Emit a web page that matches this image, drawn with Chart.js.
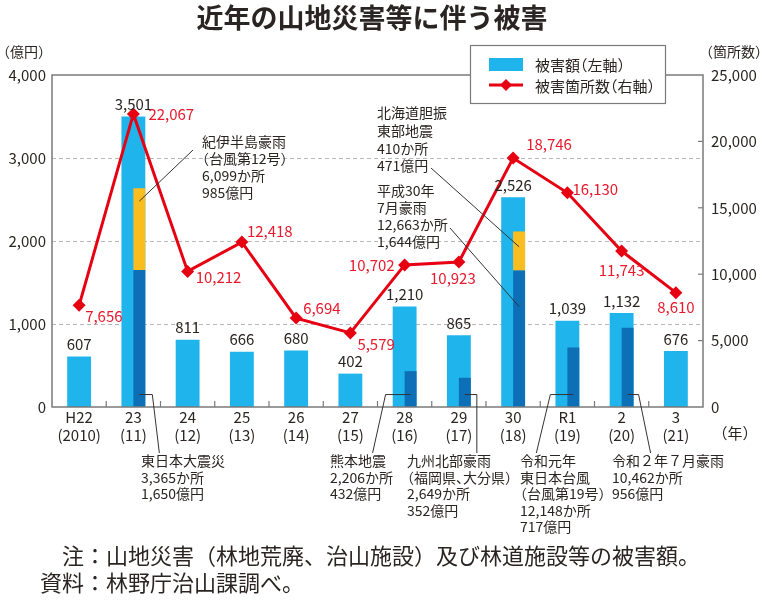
<!DOCTYPE html>
<html><head><meta charset="utf-8">
<script src="https://cdn.jsdelivr.net/npm/chart.js@4"></script>
<style>html,body{margin:0;padding:0;background:#fff}</style>
</head><body>
<canvas id="c" width="764" height="605"></canvas>
<script>
// ---- data ----
const eraYears = ['H22','23','24','25','26','27','28','29','30','R1','2','3'];
const westernYears = ['(2010)','(11)','(12)','(13)','(14)','(15)','(16)','(17)','(18)','(19)','(20)','(21)'];
const damageTotal = [607,3501,811,666,680,402,1210,865,2526,1039,1132,676];        // 億円
const majorDisaster = [null,1650,null,null,null,null,432,352,1644,717,956,null];   // 億円
const secondDisaster = [null,985,null,null,null,null,null,null,471,null,null,null]; // 億円
const siteCount = [7656,22067,10212,12418,6694,5579,10702,10923,18746,16130,11743,8610]; // 箇所
const leftTicks = [0,1000,2000,3000,4000];
const rightTicks = [0,5000,10000,15000,20000,25000];

// ---- styles ----
const FONT = '"Noto Sans CJK JP","Noto Sans",sans-serif';
const TXT = '#2a2522';
const LIGHT = '#1fb5ec';
const DARK = '#0d6fb6';
const ORANGE = '#f9bd1f';
const RED = '#e60012';
const RED_TXT = '#e8192c';
const AXIS = '#7a7a7a';
const GRID = '#b8b8b8';

// placement of red count labels relative to each point: [dx, dy, align]
const countLabelPlace = [[6,11,'left'],[15,0,'left'],[8,6,'left'],[5,-11,'left'],[7,-10,'left'],[7,11,'left'],
  [-10,0,'right'],[-6,16,'center'],[13,-14,'left'],[5,-3,'left'],[0,19,'center'],[0,15,'center']];

const fmt = v => v.toLocaleString('en-US');

// left-aligned Japanese text with half-width brackets / commas (tsume)
function jpText(ctx, text, x, y) {
  ctx.textAlign = 'left';
  let cx = x;
  for (const ch of text) {
    const w = ctx.measureText(ch).width;
    if (ch === '（') { ctx.fillText(ch, cx - w / 2, y); cx += w / 2; }
    else if (ch === '）' || ch === '、') { ctx.fillText(ch, cx, y); cx += w / 2; }
    else { ctx.fillText(ch, cx, y); cx += w; }
  }
}
function drawLines(ctx, lines, x, y, lh, size) {
  ctx.font = size + 'px ' + FONT;
  ctx.fillStyle = TXT;
  ctx.textBaseline = 'middle';
  lines.forEach((t, i) => jpText(ctx, t, x, y + i * lh));
}
function poly(ctx, pts) {
  ctx.beginPath();
  ctx.moveTo(pts[0][0], pts[0][1]);
  for (let i = 1; i < pts.length; i++) ctx.lineTo(pts[i][0], pts[i][1]);
  ctx.stroke();
}

const decor = {
  id: 'decor',
  beforeDatasetsDraw(chart) {
    const {ctx, chartArea: a, scales: {y}} = chart;
    ctx.save();
    ctx.strokeStyle = GRID; ctx.lineWidth = 1; ctx.setLineDash([4,3]);
    leftTicks.forEach(v => {
      if (v === 0 || v === 4000) return;
      const py = Math.round(y.getPixelForValue(v)) + 0.5;
      ctx.beginPath(); ctx.moveTo(a.left, py); ctx.lineTo(a.right, py); ctx.stroke();
    });
    ctx.restore();
  },
  afterDatasetsDraw(chart) {
    const {ctx, chartArea: a, scales: {x, y, y2}} = chart;
    ctx.save();
    // frame
    ctx.strokeStyle = AXIS; ctx.lineWidth = 1.5; ctx.setLineDash([]);
    ctx.strokeRect(a.left, a.top, a.right - a.left, a.bottom - a.top);
    ctx.lineWidth = 1.2;
    for (let i = 0; i < eraYears.length - 1; i++) {
      const px = (x.getPixelForValue(i) + x.getPixelForValue(i + 1)) / 2;
      ctx.beginPath(); ctx.moveTo(px, a.bottom); ctx.lineTo(px, a.bottom - 6); ctx.stroke();
    }
    rightTicks.forEach(v => {
      if (v === 0 || v === 25000) return;
      const py = y2.getPixelForValue(v);
      ctx.beginPath(); ctx.moveTo(a.right, py); ctx.lineTo(a.right - 5, py); ctx.stroke();
    });

    // bar value labels
    const lightMeta = chart.getDatasetMeta(4);
    ctx.font = '15px ' + FONT; ctx.fillStyle = TXT; ctx.textAlign = 'center'; ctx.textBaseline = 'middle';
    lightMeta.data.forEach((el, i) => ctx.fillText(fmt(damageTotal[i]), el.x, el.y - 12));

    // red count labels
    const lineMeta = chart.getDatasetMeta(0);
    ctx.fillStyle = RED_TXT;
    lineMeta.data.forEach((el, i) => {
      const [dx, dy, al] = countLabelPlace[i];
      ctx.textAlign = al;
      ctx.fillText(fmt(siteCount[i]), el.x + dx, el.y + dy);
    });

    // annotations with leaders
    const darkMeta = chart.getDatasetMeta(2);
    const dx = i => darkMeta.data[i].x;
    ctx.strokeStyle = '#333'; ctx.lineWidth = 1;
    const by = y.getPixelForValue(150);
    const ty = 453;
    poly(ctx, [[dx(1), by], [dx(1) + 13, by], [dx(1) + 20, ty]]);
    poly(ctx, [[dx(6), by], [dx(6) - 25, by], [dx(6) - 38, ty]]);
    poly(ctx, [[dx(7), by], [dx(7) + 12, by], [dx(7) + 12, ty]]);
    poly(ctx, [[dx(9), by], [dx(9) - 23, by], [dx(9) - 37, ty]]);
    poly(ctx, [[dx(10), by], [dx(10) + 11, by], [dx(10) + 23, ty]]);
    poly(ctx, [[dx(1), y.getPixelForValue(2480)], [193, 150]]);
    poly(ctx, [[dx(8), y.getPixelForValue(1930)], [431, 168]]);
    poly(ctx, [[dx(8), y.getPixelForValue(1210)], [450, 228]]);

    drawLines(ctx, ['紀伊半島豪雨', '（台風第12号）', '6,099か所', '985億円'], 202, 142, 17, 14);
    drawLines(ctx, ['北海道胆振', '東部地震', '410か所', '471億円'], 377, 113, 17.7, 14);
    drawLines(ctx, ['平成30年', '7月豪雨', '12,663か所', '1,644億円'], 377, 191, 17, 14);
    drawLines(ctx, ['東日本大震災', '3,365か所', '1,650億円'], 141, 461, 16.5, 14);
    drawLines(ctx, ['熊本地震', '2,206か所', '432億円'], 330, 461, 16.5, 14);
    drawLines(ctx, ['九州北部豪雨', '（福岡県、大分県）', '2,649か所', '352億円'], 407, 461, 16.5, 14);
    drawLines(ctx, ['令和元年', '東日本台風', '（台風第19号）', '12,148か所', '717億円'], 520, 461, 16.5, 14);
    drawLines(ctx, ['令和２年７月豪雨', '10,462か所', '956億円'], 612, 461, 16.5, 14);

    // legend
    ctx.fillStyle = '#fff'; ctx.fillRect(470, 45, 195, 58);
    ctx.strokeStyle = AXIS; ctx.lineWidth = 1.2; ctx.strokeRect(470.5, 45.5, 195, 58);
    ctx.fillStyle = LIGHT; ctx.fillRect(489, 58, 34, 13);
    ctx.strokeStyle = RED; ctx.lineWidth = 3;
    ctx.beginPath(); ctx.moveTo(489, 85); ctx.lineTo(523, 85); ctx.stroke();
    ctx.fillStyle = RED; ctx.beginPath();
    ctx.moveTo(506 - 6, 85); ctx.lineTo(506, 79); ctx.lineTo(506 + 6, 85); ctx.lineTo(506, 91); ctx.closePath(); ctx.fill();
    ctx.fillStyle = TXT; ctx.font = '15px ' + FONT; ctx.textBaseline = 'middle';
    jpText(ctx, '被害額（左軸）', 535, 65);
    jpText(ctx, '被害箇所数（右軸）', 535, 86);

    // titles & units
    ctx.font = 'bold 27px ' + FONT; ctx.textAlign = 'center';
    ctx.fillText('近年の山地災害等に伴う被害', 372, 18);
    ctx.font = '14px ' + FONT;
    jpText(ctx, '（億円）', 3, 52);
    jpText(ctx, '（箇所数）', 706, 52);
    ctx.font = '15px ' + FONT;
    jpText(ctx, '（年）', 720, 433);
    ctx.font = '22px ' + FONT; ctx.textAlign = 'left';
    ctx.fillText('注：山地災害（林地荒廃、治山施設）及び林道施設等の被害額。', 62, 556);
    ctx.fillText('資料：林野庁治山課調べ。', 40, 583);
    ctx.restore();
  }
};

const BAR_W = 0.44; // bar group width as share of category
new Chart(document.getElementById('c'), {
  type: 'bar',
  data: {
    labels: eraYears.map((e, i) => [e, westernYears[i]]),
    datasets: [
      { type: 'line', label: '被害箇所数（右軸）', data: siteCount, yAxisID: 'y2', order: 0,
        borderColor: RED, borderWidth: 3, pointStyle: 'rectRot', pointRadius: 6.5,
        pointBackgroundColor: RED, pointBorderWidth: 0, tension: 0 },
      { type: 'bar', label: 'gap', data: eraYears.map(() => 0), yAxisID: 'y', stack: 'gap', order: 1,
        categoryPercentage: BAR_W, barPercentage: 1, backgroundColor: 'rgba(0,0,0,0)', borderWidth: 0 },
      { type: 'bar', label: '主な災害', data: majorDisaster, yAxisID: 'y', stack: 'ev', order: 1,
        categoryPercentage: BAR_W, barPercentage: 1, backgroundColor: DARK },
      { type: 'bar', label: '主な災害2', data: secondDisaster, yAxisID: 'y', stack: 'ev', order: 1,
        categoryPercentage: BAR_W, barPercentage: 1, backgroundColor: ORANGE },
      { type: 'bar', label: '被害額（左軸）', data: damageTotal, yAxisID: 'y', stack: 'total', order: 2,
        grouped: false, categoryPercentage: BAR_W, barPercentage: 1, backgroundColor: LIGHT }
    ]
  },
  options: {
    responsive: false, animation: false, devicePixelRatio: 1,
    layout: { padding: { top: 75, left: 0, right: 0, bottom: 0 } },
    plugins: { legend: { display: false }, tooltip: { enabled: false } },
    scales: {
      x: { type: 'category', position: 'bottom', offset: true,
        grid: { display: false, drawTicks: false }, border: { display: false },
        ticks: { font: { family: FONT, size: 15, lineHeight: 1.2 }, color: TXT, padding: 1, maxRotation: 0, autoSkip: false },
        afterFit(s) { s.height = 198; } },
      y: { position: 'left', min: 0, max: 4000,
        grid: { display: false, drawTicks: false }, border: { display: false },
        ticks: { stepSize: 1000, callback: v => fmt(v), font: { family: FONT, size: 15 }, color: TXT, padding: 6 },
        afterFit(s) { s.width = 52; } },
      y2: { position: 'right', min: 0, max: 25000,
        grid: { display: false, drawTicks: false }, border: { display: false },
        ticks: { stepSize: 5000, callback: v => fmt(v), font: { family: FONT, size: 15 }, color: TXT, padding: 8 },
        afterFit(s) { s.width = 61; } }
    }
  },
  plugins: [decor]
});
</script>
</body></html>
